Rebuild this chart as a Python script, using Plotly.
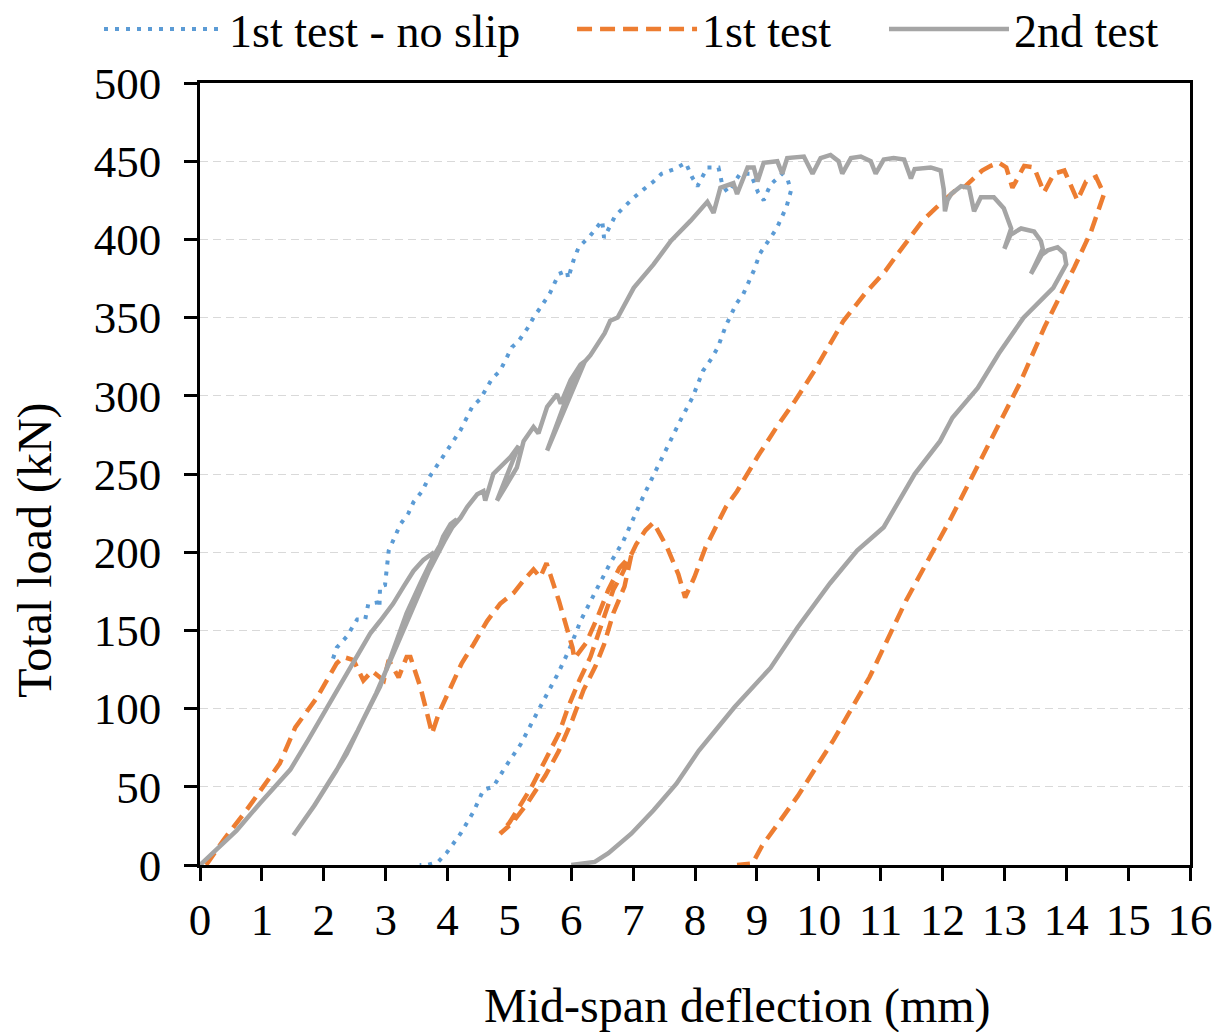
import plotly.graph_objects as go

# ---------------- data ----------------
noslip_x = [2.15, 2.21, 2.37, 2.54, 2.67, 2.72, 2.89, 2.90, 2.91, 2.99, 3.02, 3.05, 3.24, 3.37, 3.45,
            3.59, 3.69, 3.91, 4.07, 4.21, 4.40, 4.53, 4.72, 4.85, 5.04, 5.15, 5.29, 5.39, 5.53, 5.66,
            5.80, 5.93, 5.95, 6.04, 6.12, 6.30, 6.50, 6.53, 6.71, 6.99, 7.17, 7.33, 7.46, 7.67, 7.85,
            7.95, 8.04, 8.20, 8.38, 8.44, 8.53, 8.73, 8.90, 9.02, 9.11, 9.22, 9.41, 9.50, 9.55,
            9.48, 9.32, 9.18, 9.05, 8.95, 8.78, 8.67, 8.50, 8.37, 8.27, 8.13, 7.96, 7.76, 7.55, 7.35,
            7.18, 6.84, 6.63, 6.42, 6.15, 5.96, 5.78, 5.47, 5.18, 4.94, 4.74, 4.58, 4.42, 4.21, 3.99,
            3.85, 3.67, 3.55]
noslip_y = [132, 139, 146, 157, 157, 167, 168, 165, 178, 179, 190, 201, 218, 225, 232,
            239, 247, 260, 270, 278, 293, 298, 311, 316, 331, 335, 343, 350, 358, 366,
            378, 380, 375, 387, 395, 402, 412, 401, 415, 426, 432, 437, 442, 445, 449,
            440, 434, 446, 446, 435, 430, 442, 442, 430, 425, 435, 442, 438, 431,
            421, 407, 399, 391, 380, 365, 359, 345, 331, 324, 316, 299, 284, 267, 252,
            237, 207, 193, 177, 156, 137, 122, 99, 77, 63, 50, 48, 34, 20, 8,
            2, 0, 0]

test1_x = [0.10, 0.38, 0.75, 1.02, 1.29, 1.54, 1.73, 1.89, 2.05, 2.21, 2.32, 2.48, 2.64, 2.78, 2.97,
           3.05, 3.21, 3.34, 3.40, 3.56, 3.67, 3.75, 3.86, 4.05, 4.23, 4.42, 4.64, 4.85, 5.07, 5.23,
           5.39, 5.50, 5.60, 5.80, 6.02, 6.05, 6.24, 6.42, 6.60, 6.78, 6.97,
           6.86, 6.68, 6.53, 6.39, 6.20, 6.02, 5.80, 5.58, 5.30, 5.05, 4.85,
           5.00, 5.22, 5.36, 5.58, 5.80, 5.95, 6.13, 6.31, 6.42, 6.57, 6.68, 6.82, 6.93, 7.05, 7.20,
           7.33, 7.55, 7.73, 7.84, 7.99, 8.17, 8.35, 8.50, 8.68, 8.83, 9.01, 9.32, 9.62, 9.93, 10.19,
           10.40, 10.74, 11.08, 11.28, 11.55, 11.68, 11.89, 12.06, 12.20, 12.37, 12.50, 12.64, 12.78,
           12.91, 13.03, 13.13, 13.32, 13.48, 13.64, 13.80, 13.97, 14.18, 14.32, 14.48, 14.61,
           14.53, 14.40, 14.13, 13.65, 13.25, 12.70, 12.14, 11.41, 10.82, 10.24, 9.66, 9.08, 8.93, 8.68]
test1_y = [0, 16, 35, 50, 65, 88, 99, 107, 118, 129, 133, 131, 118, 124, 118,
           131, 120, 133, 133, 114, 97, 84, 97, 114, 129, 141, 156, 167, 174, 182,
           189, 184, 193, 169, 139, 132, 142, 158, 176, 190, 198,
           178, 161, 141, 127, 112, 93, 73, 57, 40, 27, 20,
           27, 41, 50, 67, 84, 101, 118, 133, 146, 163, 176, 186, 195, 205, 214,
           219, 203, 186, 171, 184, 203, 218, 229, 239, 249, 261, 280, 297, 316, 333,
           348, 365, 380, 391, 405, 412, 420, 426, 431, 434, 439, 444, 447,
           449, 446, 433, 447, 446, 430, 442, 444, 425, 437, 440, 429,
           420, 405, 382, 344, 308, 265, 222, 169, 120, 80, 44, 12, 1, 0]

test2_x = [0.00, 0.21, 0.59, 0.97, 1.29, 1.46, 1.75, 1.94, 2.15, 2.37, 2.59, 2.75, 2.91, 3.12, 3.29,
           3.45, 3.61, 3.75, 3.79, 3.93, 4.05, 4.15,
           3.95, 3.70, 3.45, 3.10, 2.85, 2.55, 2.20, 1.85, 1.51,
           1.83, 2.10, 2.37, 2.64, 2.91, 3.12, 3.34, 3.56, 3.77, 3.99, 4.21, 4.32, 4.48, 4.58, 4.61,
           4.74, 5.02, 5.15, 4.80, 5.12, 5.23, 5.39, 5.47, 5.61, 5.77, 5.83, 5.99, 6.15, 6.22,
           5.61, 6.09, 6.31, 6.54, 6.63, 6.75, 7.01, 7.33, 7.61, 7.93, 8.20, 8.30, 8.41, 8.62, 8.68,
           8.85, 8.95, 9.01, 9.11, 9.33, 9.41, 9.49, 9.76, 9.90, 10.03, 10.19, 10.32, 10.38, 10.52,
           10.68, 10.84, 10.92, 11.05, 11.21, 11.38, 11.49, 11.55, 11.81, 11.97, 12.02, 12.04, 12.08,
           12.14, 12.30, 12.43, 12.51, 12.62, 12.83, 12.99, 13.11, 13.00, 13.10, 13.27, 13.48, 13.59,
           13.62, 13.43, 13.60, 13.70, 13.86, 13.97, 14.00,
           13.79, 13.31, 12.91, 12.57, 12.16, 11.96, 11.55, 11.05, 10.62, 10.18, 9.66, 9.22, 8.64,
           8.06, 7.70, 7.33, 6.97, 6.60, 6.38, 6.00]
test2_y = [0, 7.5, 22, 39.5, 54, 61, 80, 93, 107, 122, 137, 148, 156, 167, 178,
           188, 195, 199, 195, 210, 218, 221,
           207, 188, 165, 133, 110, 86, 60, 38, 19,
           37, 54, 71, 93, 114, 137, 161, 180, 197, 212, 222, 229, 237, 239, 233,
           250, 261, 268, 233, 254, 271, 280, 276, 293, 301, 295, 310, 320, 322,
           265, 316, 326, 340, 348, 350, 369, 384, 399, 412, 424, 417, 433, 436, 429,
           446, 446, 437, 449, 450, 442, 452, 453, 442, 452, 454, 450, 442, 452,
           453, 450, 442, 451, 452, 451, 439, 445, 446, 444, 432, 418, 425,
           429, 434, 433, 418, 427, 427, 420, 407, 394, 403, 407, 405, 399,
           394, 378, 390, 393, 395, 391, 384,
           369, 350, 327, 305, 286, 271, 250, 216, 201, 180, 152, 126, 101,
           73, 52, 35, 20, 7.5, 2, 0]

series_names = ["1st test - no slip", "1st test", "2nd test"]
x_ticks = list(range(0, 17))
y_ticks = list(range(0, 501, 50))
x_title = "Mid-span deflection (mm)"
y_title = "Total load (kN)"

FONT = "Liberation Serif, Times New Roman, serif"

fig = go.Figure()
fig.add_trace(go.Scatter(x=noslip_x, y=noslip_y, mode="lines", name=series_names[0],
                         legend="legend", showlegend=True,
                         line=dict(color="#5B9BD5", width=4, dash="4px,7px")))
fig.add_trace(go.Scatter(x=test1_x, y=test1_y, mode="lines", name=series_names[1],
                         legend="legend2", showlegend=True,
                         line=dict(color="#ED7D31", width=4.5, dash="15px,8px")))
fig.add_trace(go.Scatter(x=test2_x, y=test2_y, mode="lines", name=series_names[2],
                         legend="legend3", showlegend=True,
                         line=dict(color="#A5A5A5", width=4.5)))

axis_common = dict(showline=True, linecolor="black", linewidth=2.5, mirror=True,
                   ticks="outside", ticklen=13, tickwidth=2.5, tickcolor="black",
                   zeroline=False, tickfont=dict(family=FONT, size=45, color="black"))

fig.update_xaxes(range=[0, 16], tickvals=x_ticks, showgrid=False,
                 ticklabelstandoff=0, **axis_common)
fig.update_yaxes(range=[0, 500], tickvals=y_ticks, showgrid=True, gridcolor="#D9D9D9",
                 gridwidth=1.4, griddash="8px,5px", ticklabelstandoff=14, **axis_common)

legend_common = dict(orientation="h", xanchor="left", y=1.069, yanchor="middle",
                     font=dict(family=FONT, size=46, color="black"), itemwidth=120,
                     bgcolor="rgba(0,0,0,0)")

# plot area lands at x 200..1190, y 83..865 of the 1216x1032 window
fig.update_layout(
    width=1216, height=1032,
    showlegend=True,
    margin=dict(l=200, r=26, t=83, b=167, autoexpand=False),
    plot_bgcolor="white", paper_bgcolor="white",
    font=dict(family=FONT, color="black"),
    legend=dict(x=-0.102, **legend_common),
    legend2=dict(x=0.3758, **legend_common),
    legend3=dict(x=0.6909, **legend_common),
    annotations=[
        dict(text=x_title, xref="paper", yref="paper", x=0.5434, y=-0.18,
             xanchor="center", yanchor="middle", showarrow=False,
             font=dict(family=FONT, size=48, color="black")),
        dict(text=y_title, xref="paper", yref="paper", x=-0.167, y=0.4028,
             xanchor="center", yanchor="middle", showarrow=False, textangle=-90,
             font=dict(family=FONT, size=48, color="black")),
    ],
)

# remove the default 8 px page margin so the 1216x1032 figure fills the window
fig.write_html("out.html",
               config={"displayModeBar": False},
               post_script="document.body.style.margin='0';document.body.style.overflow='hidden';")
